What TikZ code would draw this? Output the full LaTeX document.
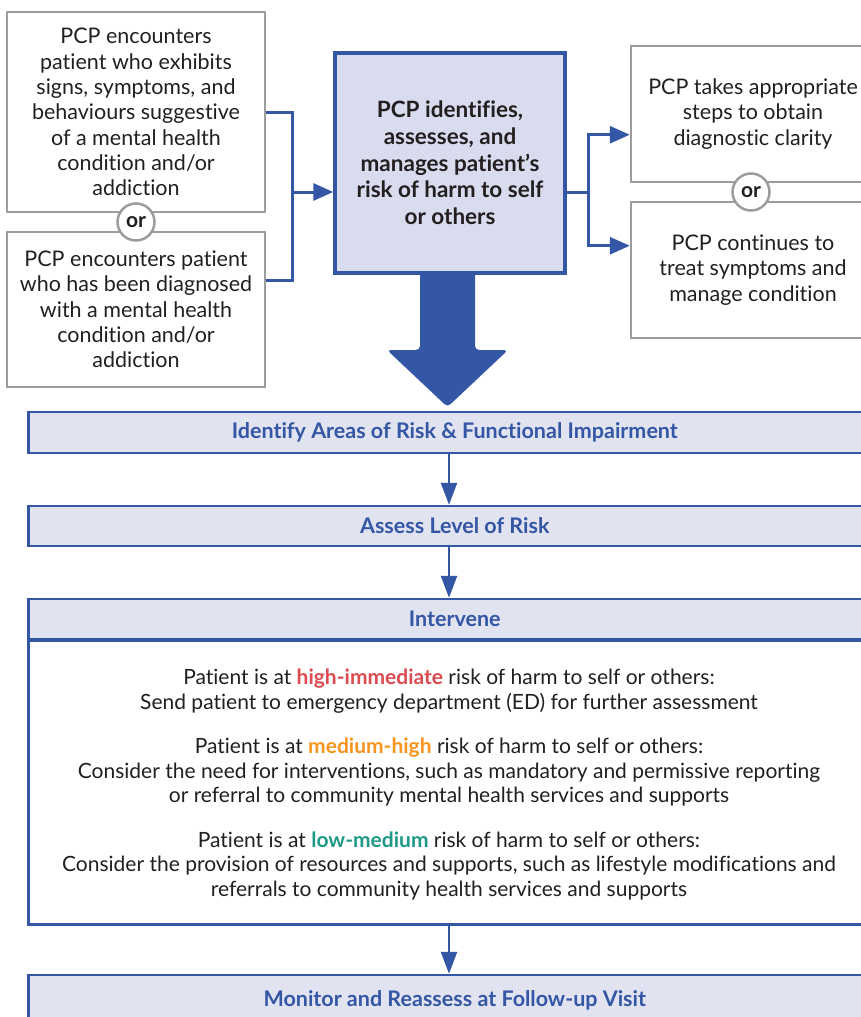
\documentclass[tikz,border=0pt]{standalone}
\usepackage{fontspec}
\setmainfont{Lato}[Ligatures=NoCommon]
\usetikzlibrary{arrows.meta,calc}
\definecolor{pblue}{HTML}{3356A5}
\definecolor{plav}{HTML}{D9DCEE}
\definecolor{pband}{HTML}{E1E3F1}
\definecolor{pgray}{HTML}{9C9C9C}
\definecolor{pred}{HTML}{DD4A4F}
\definecolor{porange}{HTML}{F7941D}
\definecolor{pteal}{HTML}{1E9987}
\definecolor{ptext}{HTML}{231F20}
\begin{document}
\begin{tikzpicture}[x=1pt,y=-1pt,
  graybox/.style={draw=pgray, line width=2.5pt, fill=white, inner sep=0pt, align=center,
    text=ptext, font=\fontsize{21.5}{25.3}\selectfont},
  orcircle/.style={circle, draw=pgray, line width=2.5pt, fill=white, minimum size=37pt,
    inner sep=0pt, text=ptext, font=\bfseries\fontsize{21}{22}\selectfont},
  centerbox/.style={draw=pblue, line width=3.5pt, fill=plav, inner sep=0pt, align=center,
    text=ptext, font=\bfseries\fontsize{22.5}{26.7}\selectfont},
  band/.style={draw=pblue, line width=2.5pt, fill=pband, inner sep=0pt, text=pblue,
    minimum width=852.5pt, font=\bfseries\fontsize{21.5}{22}\selectfont},
  bodybox/.style={draw=pblue, line width=2.5pt, fill=white, inner sep=0pt,
    minimum width=852.5pt, minimum height=284pt},
  bodytext/.style={align=center, text=ptext, inner sep=0pt, font=\fontsize{21}{24.5}\selectfont},
  conn/.style={draw=pblue, line width=3pt},
  arr/.style={conn, -{Triangle[length=20pt,width=17pt]}},
  varr/.style={draw=pblue, line width=2.5pt, -{Triangle[length=22pt,width=16pt]}}
]
\useasboundingbox (0,0) rectangle (861,1017);
\clip (0,0) rectangle (861,1017);
\fill[white] (0,0) rectangle (861,1017);

% top-left boxes
\node[graybox, minimum width=258pt, minimum height=200pt] (A) at (136,112)
  {PCP encounters\\patient who exhibits\\signs, symptoms, and\\behaviours suggestive\\of a mental health\\condition and/or\\addiction};
\node[graybox, minimum width=258pt, minimum height=155pt] (B) at (136,309.5)
  {PCP encounters patient\\who has been diagnosed\\with a mental health\\condition and/or\\addiction};
\node[orcircle] (orL) at (136,222) {or};

% right boxes
\node[graybox, minimum width=244pt, minimum height=136pt] (D) at (753,114)
  {PCP takes appropriate\\steps to obtain\\diagnostic clarity};
\node[graybox, minimum width=244pt, minimum height=136pt] (E) at (753,270)
  {PCP continues to\\treat symptoms and\\manage condition};
\node[orcircle] (orR) at (751,192) {or};

% big arrow (behind center box)
\coordinate (bigtop) at (447.5,260);
\fill[pblue, rounded corners=4pt]
  ($(bigtop)+(-27.5,0)$) -- ($(bigtop)+(-27.5,90)$) -- ($(bigtop)+(-60.5,90)$)
  -- ($(bigtop)+(0,147)$) -- ($(bigtop)+(60.5,90)$) -- ($(bigtop)+(27.5,90)$)
  -- ($(bigtop)+(27.5,0)$) -- cycle;

% center box
\node[centerbox, minimum width=230pt, minimum height=220pt] (C) at (450,163)
  {PCP identifies,\\assesses, and\\manages patient’s\\risk of harm to self\\or others};

% left connectors
\coordinate (jL) at (292,192);
\coordinate (bL) at ($(B.north east)+(0,50)$);
\draw[conn] (A.east) -- (A.east -| jL) -- (jL |- bL) -- (bL);
\draw[arr] (jL) -- (jL -| C.west);

% right connectors
\coordinate (jR) at (588,192);
\coordinate (dT) at ($(D.north west)+(0,90)$);
\coordinate (eT) at ($(E.north west)+(0,45)$);
\draw[conn] (C.east |- jR) -- (jR);
\draw[arr] (jR) -- (jR |- dT) -- (dT);
\draw[arr] (jR) -- (jR |- eT) -- (eT);

% bands
\node[band, minimum height=41pt] (b1) at (454.75,432.5) {Identify Areas of Risk \& Functional Impairment};
\node[band, minimum height=40pt] (b2) at (454.75,526) {Assess Level of Risk};
\node[bodybox, anchor=north] (ib) at (454.75,639) {};
\node[band, minimum height=40pt] (b3) at (454.75,619) {Intervene};
\node[band, minimum height=50pt] (b4) at (454.75,1000) {Monitor and Reassess at Follow-up Visit};

\node[bodytext] (it) at (449,784.5)
  {Patient is at {\bfseries\color{pred}high-immediate} risk of harm to self or others:\\
   Send patient to emergency department (ED) for further assessment\\[20pt]
   Patient is at {\bfseries\color{porange}medium-high} risk of harm to self or others:\\
   Consider the need for interventions, such as mandatory and permissive reporting\\
   or referral to community mental health services and supports\\[20pt]
   Patient is at {\bfseries\color{pteal}low-medium} risk of harm to self or others:\\
   Consider the provision of resources and supports, such as lifestyle modifications and\\
   referrals to community health services and supports};

\coordinate (ax) at (449,0);
\draw[varr] (b1.south -| ax) -- (b2.north -| ax);
\draw[varr] (b2.south -| ax) -- (b3.north -| ax);
\draw[varr] (ib.south -| ax) -- (b4.north -| ax);
\end{tikzpicture}
\end{document}
